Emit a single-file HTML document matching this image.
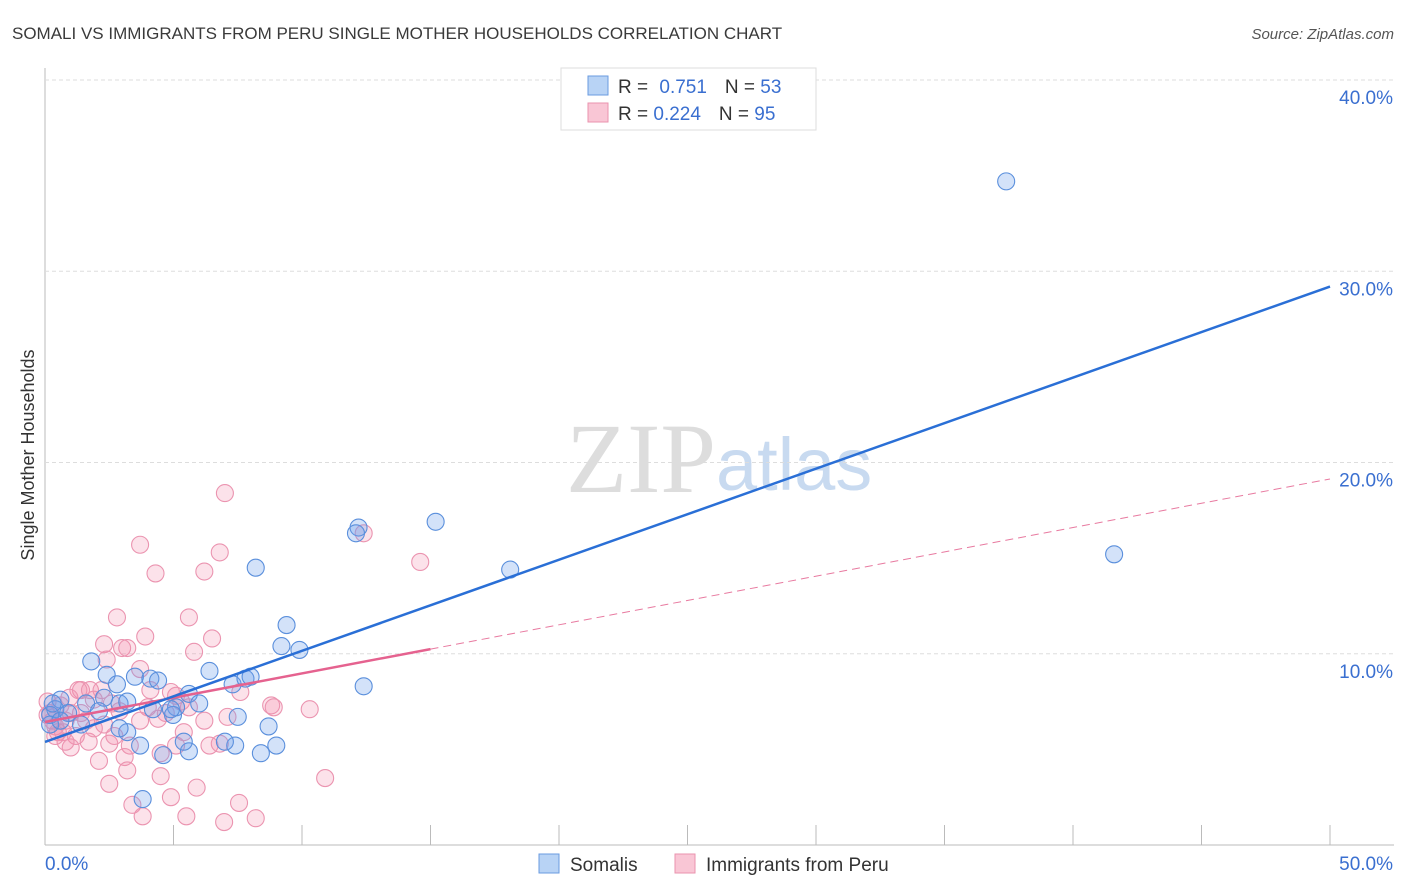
<!DOCTYPE html>
<html><head><meta charset="utf-8"><style>
body{margin:0;background:#fff;font-family:"Liberation Sans",sans-serif;}
#wrap{position:relative;width:1406px;height:892px;overflow:hidden;}
</style></head><body>
<div id="wrap">
<svg id="svg" width="1406" height="892" xmlns="http://www.w3.org/2000/svg">
<text x="12" y="39" font-size="17" fill="#3a3a3a">SOMALI VS IMMIGRANTS FROM PERU SINGLE MOTHER HOUSEHOLDS CORRELATION CHART</text>
<text x="1394" y="39" font-size="15" fill="#555" font-style="italic" text-anchor="end">Source: ZipAtlas.com</text>
<text x="716" y="492" font-size="100" fill="#ddd" font-family="Liberation Serif,serif" text-anchor="end">ZIP</text>
<text x="716" y="490" font-size="74" fill="#c8daf0">atlas</text>
<text transform="translate(34,455) rotate(-90)" font-size="18" fill="#333" text-anchor="middle">Single Mother Households</text>
<g id="grid"></g><g id="pts"></g><g id="lines"></g>
<g>
<rect x="561" y="68" width="255" height="62" fill="#fff" stroke="#ddd"/>
<rect x="588" y="76" width="20" height="19" fill="#b8d3f5" stroke="#6a9be0"/>
<rect x="588" y="103" width="20" height="19" fill="#f9c6d5" stroke="#ea93ae"/>
<text x="618" y="93" font-size="19" fill="#333">R = <tspan fill="#3a6fd0" dx="6">0.751</tspan><tspan dx="18" fill="#333">N = </tspan><tspan fill="#3a6fd0">53</tspan></text>
<text x="618" y="120" font-size="19" fill="#333">R = <tspan fill="#3a6fd0">0.224</tspan><tspan dx="18" fill="#333">N = </tspan><tspan fill="#3a6fd0">95</tspan></text>
</g>
<g>
<rect x="539" y="854" width="20" height="19" fill="#b8d3f5" stroke="#6a9be0"/>
<text x="570" y="871" font-size="19" fill="#333">Somalis</text>
<rect x="675" y="854" width="20" height="19" fill="#f9c6d5" stroke="#ea93ae"/>
<text x="706" y="871" font-size="19" fill="#333">Immigrants from Peru</text>
</g>
</svg>
</div>
<script>
const yTicks=[10,20,30,40];
const xTickLabels=["0.0%","50.0%"];
const somaliX=[37.4,41.6,15.2,12.2,12.1,18.1,8.2,9.4,9.9,9.2,1.8,6.4,12.4,2.4,2.8,3.5,4.1,4.4,5.6,6.0,5.1,4.2,7.3,7.8,8.0,7.5,8.7,9.0,8.4,7.4,7.0,5.6,5.4,4.6,3.7,3.2,2.9,2.3,1.6,0.6,0.4,0.2,0.3,3.8,4.98,0.9,2.1,2.9,1.4,0.2,0.6,3.2,4.9];
const somaliY=[34.7,15.2,16.9,16.6,16.3,14.4,14.5,11.5,10.2,10.4,9.6,9.1,8.3,8.9,8.4,8.8,8.7,8.6,7.9,7.4,7.2,7.1,8.4,8.7,8.8,6.7,6.2,5.2,4.8,5.2,5.4,4.9,5.4,4.7,5.2,5.9,7.4,7.7,7.4,7.6,7.1,6.8,7.4,2.4,6.8,6.9,7.0,6.1,6.3,6.3,6.5,7.5,7.1];
const peruX=[7.0,3.7,12.4,14.6,6.8,4.3,6.2,2.8,5.6,3.9,6.5,2.3,3.0,3.2,2.4,5.8,3.7,1.4,1.3,4.9,5.1,5.3,7.6,8.8,8.9,10.3,5.6,6.2,7.1,4.0,4.4,1.9,2.9,0.8,1.0,0.5,1.2,1.7,3.3,2.5,2.1,3.1,4.5,5.1,6.4,6.8,1.0,4.5,3.2,2.5,3.4,3.8,4.9,5.9,5.5,6.97,7.55,8.2,10.9,0.6,0.2,0.3,0.4,0.1,0.7,1.6,2.3,3.7,2.6,1.75,0.95,4.1,4.7,5.4,2.7,1.9,1.4,2.2,0.1,0.4,0.8];
const peruY=[18.4,15.7,16.3,14.8,15.3,14.2,14.3,11.9,11.9,10.9,10.8,10.5,10.3,10.3,9.7,10.1,9.2,8.1,8.1,8.0,7.8,7.5,8.0,7.3,7.2,7.1,7.2,6.5,6.7,7.2,6.6,7.6,7.0,6.5,6.9,5.9,5.7,5.4,5.2,5.3,4.4,4.6,4.8,5.2,5.2,5.3,5.1,3.6,3.9,3.2,2.1,1.5,2.5,3.0,1.5,1.2,2.2,1.4,3.5,7.3,6.9,6.5,6.2,6.8,5.9,6.5,6.3,6.5,7.4,8.1,7.7,8.1,6.9,5.9,5.7,6.1,6.9,8.1,7.5,5.7,5.4];
const somaliTrend=[5.39,29.2];
const peruTrend=[6.43,19.14];
const peruSolidEnd=15;
const X0=45,X1=1330,Y0=845,Y40=80;
const sx=v=>X0+(X1-X0)*v/50;
const sy=v=>Y0-(Y0-Y40)*v/40;
const NS="http://www.w3.org/2000/svg";
function mk(tag,attrs,parent){const e=document.createElementNS(NS,tag);for(const k in attrs)e.setAttribute(k,attrs[k]);parent.appendChild(e);return e;}
const grid=document.getElementById('grid');
let ax=mk('line',{x1:X0,y1:68,x2:X0,y2:Y0,stroke:'#bbb'},grid);


let bx=mk('line',{x1:X0,y1:Y0,x2:1394,y2:Y0,stroke:'#bbb'},grid);


yTicks.forEach(t=>{
 let g=mk('line',{x1:X0,x2:1394,y1:sy(t),y2:sy(t),stroke:'#ddd','stroke-dasharray':'4,3'},grid);
 
 
 let l=mk('text',{x:1393,y:sy(t)+24,'font-size':19,fill:'#3a6fd0','text-anchor':'end'},grid);
 l.textContent=t.toFixed(1)+'%';
 
 
});
for(let i=1;i<=10;i++){
 let t=mk('line',{x1:sx(i*5),x2:sx(i*5),y1:825,y2:Y0,stroke:'#bbb'},grid);
 
 
}
[[0,'start',45],[50,'end',1393]].forEach((d,i)=>{
 let l=mk('text',{x:d[2],y:870,'font-size':19,fill:'#3a6fd0','text-anchor':d[1]},grid);
 l.textContent=xTickLabels[i];
 
 
});
const pts=document.getElementById('pts');
peruX.forEach((v,i)=>{
 let c=mk('circle',{cx:sx(v),cy:sy(peruY[i]),r:8.5,fill:'rgba(242,140,170,0.25)',stroke:'#eb94b0','stroke-width':1.1},pts);
 
 
});
somaliX.forEach((v,i)=>{
 let c=mk('circle',{cx:sx(v),cy:sy(somaliY[i]),r:8.5,fill:'rgba(110,160,235,0.3)',stroke:'#5a8fdc','stroke-width':1.1},pts);
 
 
});
const lines=document.getElementById('lines');
const pv=x=>peruTrend[0]+(peruTrend[1]-peruTrend[0])*x/50;
let pd=mk('line',{x1:sx(peruSolidEnd),y1:sy(pv(peruSolidEnd)),x2:sx(50),y2:sy(peruTrend[1]),stroke:'#e87aa0','stroke-width':1,'stroke-dasharray':'8,5'},lines);


let ps=mk('line',{x1:sx(0),y1:sy(peruTrend[0]),x2:sx(peruSolidEnd),y2:sy(pv(peruSolidEnd)),stroke:'#e5628f','stroke-width':2.5},lines);


let sl=mk('line',{x1:sx(0),y1:sy(somaliTrend[0]),x2:sx(50),y2:sy(somaliTrend[1]),stroke:'#2a6fd6','stroke-width':2.5},lines);


</script>
</body></html>
